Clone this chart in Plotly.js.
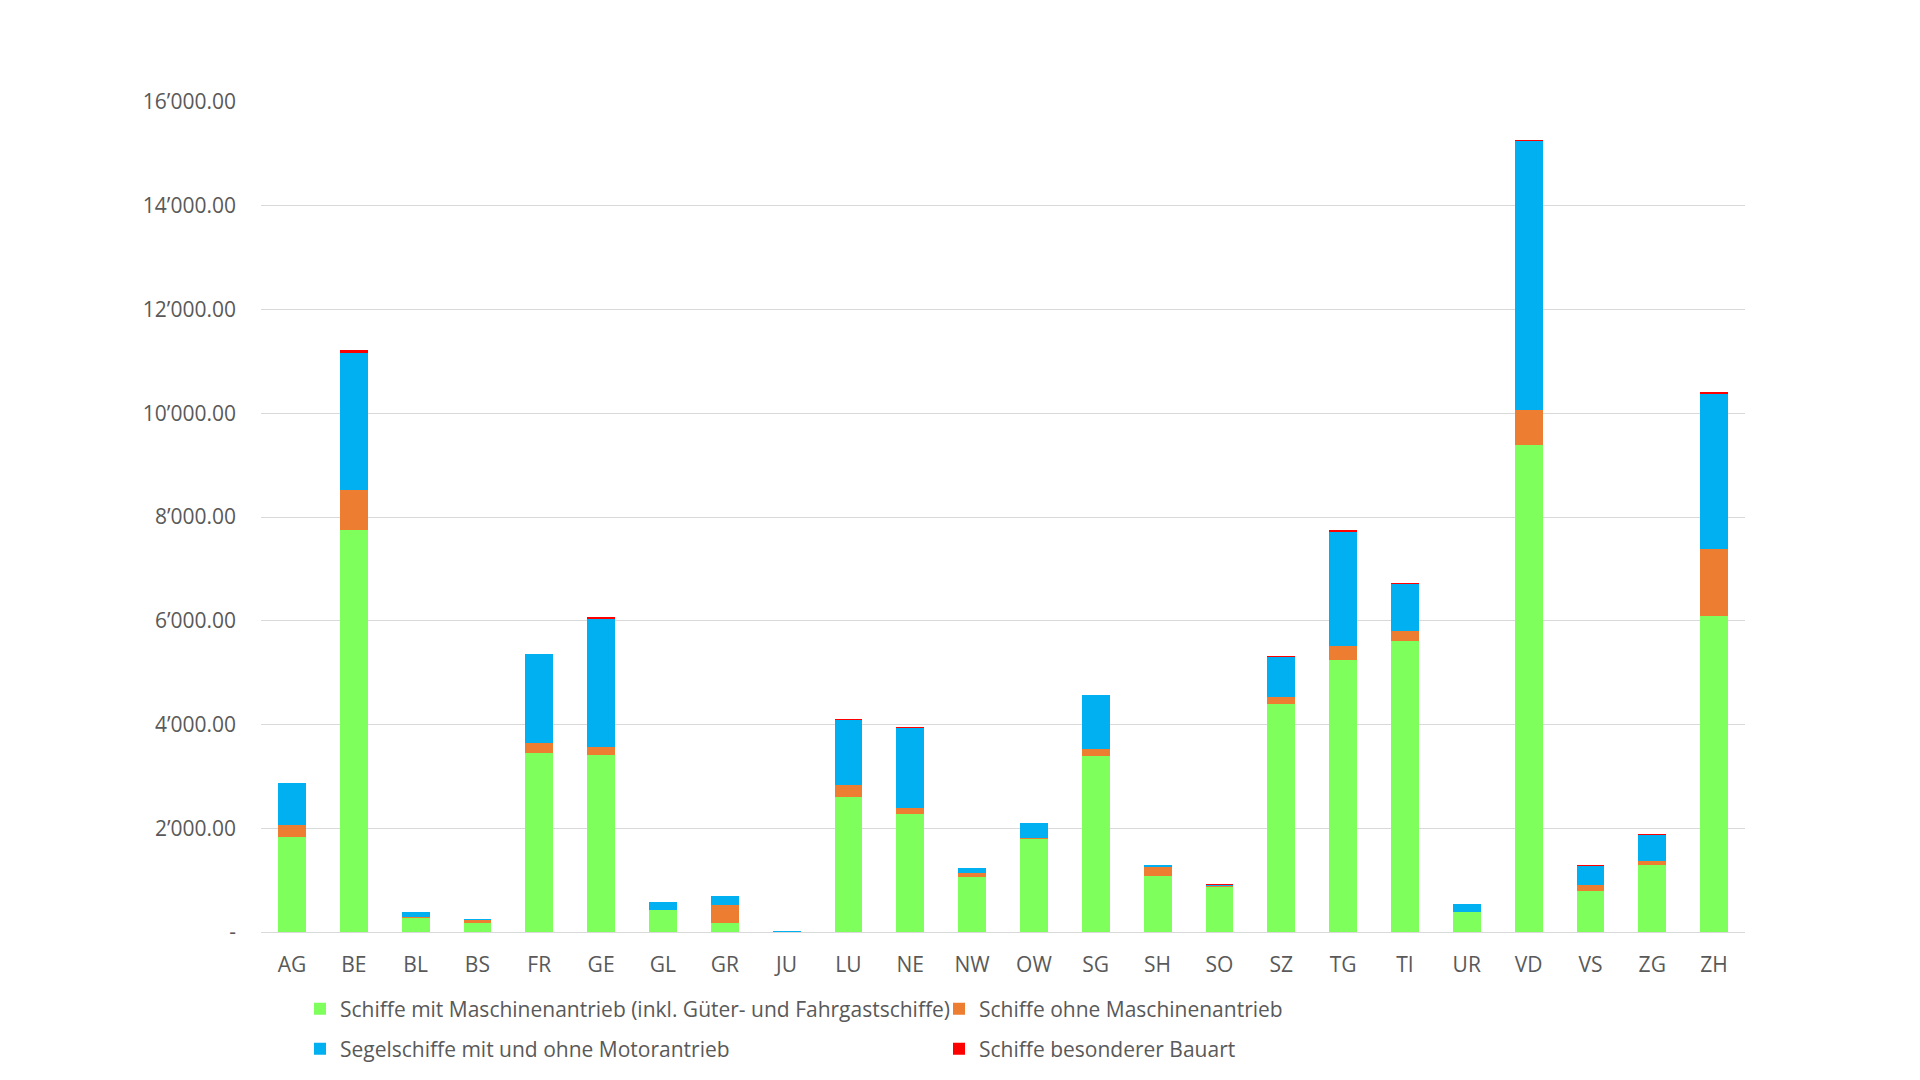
<!DOCTYPE html>
<html>
<head>
<meta charset="utf-8">
<script src="https://cdn.plot.ly/plotly-3.0.1.min.js"></script>
<style>
  html, body { margin: 0; padding: 0; background: #ffffff; }
  #chart { width: 1920px; height: 1080px; }
</style>
</head>
<body>
<div id="chart"></div>
<script>
// Cantons
const cantons = ["AG","BE","BL","BS","FR","GE","GL","GR","JU","LU","NE","NW","OW","SG","SH","SO","SZ","TG","TI","UR","VD","VS","ZG","ZH"];

// Series values
const maschinenantrieb = [1840, 7740, 265, 170, 3450, 3415, 420, 175, 5, 2610, 2270, 1065, 1795, 3395, 1080, 875, 4390, 5250, 5615, 385, 9385, 795, 1300, 6095];
const ohneMaschinenantrieb = [225, 790, 25, 55, 190, 160, 10, 340, 0, 215, 130, 65, 25, 140, 180, 10, 140, 265, 185, 5, 675, 120, 70, 1290];
const segelschiffe = [800, 2640, 95, 20, 1715, 2455, 145, 175, 15, 1270, 1540, 95, 280, 1025, 30, 30, 780, 2200, 900, 155, 5185, 365, 495, 2990];
const besondererBauart = [10, 50, 5, 15, 10, 45, 3, 5, 0, 5, 10, 5, 3, 5, 5, 3, 5, 30, 30, 3, 30, 5, 15, 40];

const seriesNames = [
  "Schiffe mit Maschinenantrieb (inkl. Güter- und Fahrgastschiffe)",
  "Schiffe ohne Maschinenantrieb",
  "Segelschiffe mit und ohne Motorantrieb",
  "Schiffe besonderer Bauart"
];
const seriesColors = ["#7FFF5C", "#ED7D31", "#00B0F0", "#FF0000"];
const seriesLegends = ["legend", "legend", "legend2", "legend2"];

// Axis tick labels
const yTickVals = [0, 2000, 4000, 6000, 8000, 10000, 12000, 14000, 16000];
const yTickText = ["-", "2’000.00", "4’000.00", "6’000.00", "8’000.00", "10’000.00", "12’000.00", "14’000.00", "16’000.00"];

const seriesValues = [maschinenantrieb, ohneMaschinenantrieb, segelschiffe, besondererBauart];

const traces = seriesValues.map((vals, i) => ({
  type: "bar",
  name: seriesNames[i],
  x: cantons,
  y: vals,
  legend: seriesLegends[i],
  marker: { color: seriesColors[i], line: { width: 0 } },
  hoverinfo: "x+y+name"
}));

const fontFamily = "'Open Sans', 'Liberation Sans', sans-serif";
const legendFont = { family: fontFamily, size: 21, color: "#595959" };

function legendAt(yPx) {
  return {
    orientation: "h",
    xref: "container",
    yref: "container",
    x: 300 / 1920,
    xanchor: "left",
    y: 1 - yPx / 1080,
    yanchor: "middle",
    entrywidth: 594,
    entrywidthmode: "pixels",
    itemwidth: 30,
    traceorder: "normal",
    font: legendFont,
    bgcolor: "rgba(0,0,0,0)"
  };
}

const layout = {
  width: 1920,
  height: 1080,
  barmode: "stack",
  bargap: 0.55,
  paper_bgcolor: "#ffffff",
  plot_bgcolor: "#ffffff",
  margin: { l: 261, r: 175, t: 102, b: 148, pad: 0 },
  font: { family: fontFamily, size: 21, color: "#595959" },
  xaxis: {
    type: "category",
    showgrid: false,
    showline: true,
    linecolor: "#D9D9D9",
    linewidth: 1,
    ticks: "",
    tickfont: { family: fontFamily, size: 21, color: "#595959" },
    ticklabelstandoff: 14
  },
  yaxis: {
    range: [0, 16000],
    tickmode: "array",
    tickvals: yTickVals,
    ticktext: yTickText,
    showgrid: true,
    gridcolor: "#D9D9D9",
    gridwidth: 1,
    zeroline: false,
    showline: false,
    ticks: "",
    ticklabelstandoff: 24,
    tickfont: { family: fontFamily, size: 21, color: "#595959" }
  },
  showlegend: true,
  legend: legendAt(1009),
  legend2: legendAt(1049)
};

Plotly.newPlot("chart", traces, layout, { displayModeBar: false, staticPlot: true });
</script>
</body>
</html>
